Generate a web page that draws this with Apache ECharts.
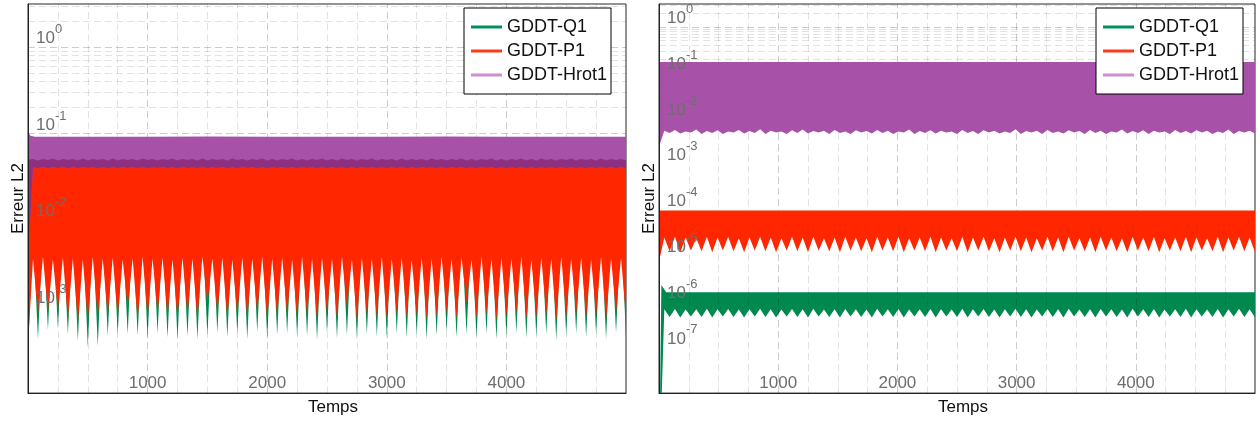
<!DOCTYPE html>
<html><head><meta charset="utf-8">
<script src="https://cdn.jsdelivr.net/npm/echarts@6/dist/echarts.min.js"></script>
<style>html,body{margin:0;padding:0;background:#fff}#c{width:1260px;height:421px}</style>
</head><body><div id="c"></div>
<script>
// ---------- DATA ----------
const seriesNames = ['GDDT-Q1', 'GDDT-P1', 'GDDT-Hrot1'];
const xTickLabels = [1000, 2000, 3000, 4000];
const leftExps = [0, -1, -2, -3];
const rightExps = [0, -1, -2, -3, -4, -5, -6, -7];
const tMax = 5000;

// sampling grids (time)
const leftFineT = Array.from({length: 121}, (_, i) => i * tMax / 120);
const rightFineT = Array.from({length: 113}, (_, i) => i * tMax / 112);
const coarseT = [0, 20, 60, 500, 1000, 1500, 2000, 2500, 3000, 3500, 4000, 4500, 5000];

// ----- left panel -----
const leftQ1High = [0.042, 0.042, 0.042, 0.042, 0.042, 0.042, 0.042, 0.042, 0.042, 0.042, 0.042, 0.042, 0.042];
const leftP1High = [0.043, 0.043, 0.043, 0.043, 0.043, 0.043, 0.043, 0.043, 0.043, 0.043, 0.043, 0.043, 0.043];
const leftHrotHigh = [0.105, 0.095, 0.092, 0.092, 0.092, 0.093, 0.092, 0.092, 0.092, 0.093, 0.092, 0.092, 0.092];

const leftP1Low = [3.5e-4,
 3.6e-3, 8.2e-4, 3.8e-3, 8.8e-4, 3.5e-3, 9.2e-4, 3.7e-3, 7.4e-4, 3.6e-3, 6.6e-4,
 3.5e-3, 6.9e-4, 3.8e-3, 7.6e-4, 3.6e-3, 8.0e-4, 3.7e-3, 7.7e-4, 3.5e-3, 1.0e-3,
 3.6e-3, 7.0e-4, 3.8e-3, 7.6e-4, 3.6e-3, 8.3e-4, 3.7e-3, 7.7e-4, 3.5e-3, 7.4e-4,
 3.7e-3, 8.0e-4, 3.6e-3, 7.2e-4, 3.8e-3, 1.1e-3, 3.6e-3, 8.4e-4, 3.7e-3, 7.3e-4,
 3.5e-3, 8.1e-4, 3.7e-3, 7.5e-4, 3.6e-3, 8.6e-4, 3.8e-3, 7.2e-4, 3.6e-3, 7.9e-4,
 3.7e-3, 8.3e-4, 3.5e-3, 7.6e-4, 3.8e-3, 8.0e-4, 3.6e-3, 7.1e-4, 3.7e-3, 8.5e-4,
 3.6e-3, 7.4e-4, 3.8e-3, 1.0e-3, 3.5e-3, 7.0e-4, 3.7e-3, 8.2e-4, 3.6e-3, 7.7e-4,
 3.8e-3, 7.3e-4, 3.6e-3, 8.4e-4, 3.7e-3, 7.6e-4, 3.5e-3, 8.1e-4, 3.7e-3, 7.2e-4,
 3.6e-3, 7.8e-4, 3.8e-3, 8.6e-4, 3.6e-3, 7.4e-4, 3.7e-3, 1.1e-3, 3.5e-3, 7.5e-4,
 3.8e-3, 8.3e-4, 3.6e-3, 7.1e-4, 3.7e-3, 7.9e-4, 3.6e-3, 8.5e-4, 3.8e-3, 7.3e-4,
 3.5e-3, 7.7e-4, 3.7e-3, 8.2e-4, 3.6e-3, 7.0e-4, 3.8e-3, 7.8e-4, 3.6e-3, 8.4e-4,
 3.7e-3, 7.5e-4, 3.5e-3, 8.0e-4, 3.8e-3, 7.2e-4, 3.6e-3, 8.6e-4, 3.7e-3, 7.6e-4];

const leftQ1Low = [3.0e-4,
 8.0e-3, 4.2e-4, 8.2e-3, 5.4e-4, 7.8e-3, 5.6e-4, 8.0e-3, 4.8e-4, 8.2e-3, 4.0e-4,
 7.8e-3, 3.4e-4, 8.0e-3, 3.5e-4, 8.2e-3, 4.6e-4, 8.0e-3, 4.7e-4, 7.8e-3, 4.8e-4,
 8.2e-3, 4.6e-4, 8.0e-3, 4.3e-4, 7.8e-3, 4.9e-4, 8.2e-3, 4.4e-4, 8.0e-3, 4.1e-4,
 7.8e-3, 4.5e-4, 8.2e-3, 4.2e-4, 8.0e-3, 4.6e-4, 7.8e-3, 5.0e-4, 8.2e-3, 4.4e-4,
 8.0e-3, 4.8e-4, 7.8e-3, 4.2e-4, 8.2e-3, 5.1e-4, 8.0e-3, 4.3e-4, 7.8e-3, 4.7e-4,
 8.2e-3, 4.9e-4, 8.0e-3, 4.5e-4, 7.8e-3, 4.6e-4, 8.2e-3, 4.1e-4, 8.0e-3, 5.0e-4,
 7.8e-3, 4.3e-4, 8.2e-3, 4.7e-4, 8.0e-3, 4.2e-4, 7.8e-3, 4.8e-4, 8.2e-3, 4.5e-4,
 8.0e-3, 4.3e-4, 7.8e-3, 4.9e-4, 8.2e-3, 4.4e-4, 8.0e-3, 4.7e-4, 7.8e-3, 4.2e-4,
 8.2e-3, 4.6e-4, 8.0e-3, 5.1e-4, 7.8e-3, 4.4e-4, 8.2e-3, 4.8e-4, 8.0e-3, 4.3e-4,
 7.8e-3, 4.9e-4, 8.2e-3, 4.2e-4, 8.0e-3, 4.6e-4, 7.8e-3, 5.0e-4, 8.2e-3, 4.3e-4,
 8.0e-3, 4.5e-4, 7.8e-3, 4.8e-4, 8.2e-3, 4.1e-4, 8.0e-3, 4.6e-4, 7.8e-3, 4.9e-4,
 8.2e-3, 4.4e-4, 8.0e-3, 4.7e-4, 7.8e-3, 4.2e-4, 8.2e-3, 5.0e-4, 8.0e-3, 4.5e-4];

const leftHrotDark = [0.050,
 0.051, 0.049, 0.051, 0.0495, 0.0515, 0.049, 0.051, 0.0495, 0.051, 0.049,
 0.0515, 0.049, 0.051, 0.0495, 0.051, 0.049, 0.0515, 0.049, 0.051, 0.0495,
 0.051, 0.049, 0.0515, 0.0495, 0.051, 0.049, 0.051, 0.0495, 0.0515, 0.049,
 0.051, 0.0495, 0.051, 0.049, 0.0515, 0.049, 0.051, 0.0495, 0.051, 0.049,
 0.0515, 0.0495, 0.051, 0.049, 0.051, 0.0495, 0.0515, 0.049, 0.051, 0.049,
 0.051, 0.0495, 0.0515, 0.049, 0.051, 0.049, 0.051, 0.0495, 0.0515, 0.049,
 0.051, 0.049, 0.0515, 0.0495, 0.051, 0.049, 0.051, 0.0495, 0.0515, 0.049,
 0.051, 0.0495, 0.051, 0.049, 0.0515, 0.049, 0.051, 0.0495, 0.051, 0.049,
 0.0515, 0.0495, 0.051, 0.049, 0.051, 0.0495, 0.0515, 0.049, 0.051, 0.049,
 0.051, 0.0495, 0.0515, 0.049, 0.051, 0.049, 0.051, 0.0495, 0.0515, 0.049,
 0.051, 0.049, 0.0515, 0.0495, 0.051, 0.049, 0.051, 0.0495, 0.0515, 0.049,
 0.051, 0.0495, 0.051, 0.049, 0.0515, 0.049, 0.051, 0.0495, 0.051, 0.049];

const leftHrotLow = [3.5e-3,
 0.0412, 0.0397, 0.0414, 0.0396, 0.0411, 0.0398, 0.0413, 0.0396, 0.0412, 0.0397,
 0.0414, 0.0398, 0.0411, 0.0396, 0.0413, 0.0397, 0.0412, 0.0396, 0.0414, 0.0398,
 0.0411, 0.0397, 0.0413, 0.0396, 0.0412, 0.0398, 0.0414, 0.0397, 0.0411, 0.0396,
 0.0413, 0.0398, 0.0412, 0.0397, 0.0414, 0.0396, 0.0411, 0.0398, 0.0413, 0.0397,
 0.0412, 0.0396, 0.0414, 0.0398, 0.0411, 0.0397, 0.0413, 0.0396, 0.0412, 0.0398,
 0.0414, 0.0397, 0.0411, 0.0396, 0.0413, 0.0398, 0.0412, 0.0397, 0.0414, 0.0396,
 0.0411, 0.0398, 0.0413, 0.0397, 0.0412, 0.0396, 0.0414, 0.0398, 0.0411, 0.0397,
 0.0413, 0.0396, 0.0412, 0.0398, 0.0414, 0.0397, 0.0411, 0.0396, 0.0413, 0.0398,
 0.0412, 0.0397, 0.0414, 0.0396, 0.0411, 0.0398, 0.0413, 0.0397, 0.0412, 0.0396,
 0.0414, 0.0398, 0.0411, 0.0397, 0.0413, 0.0396, 0.0412, 0.0398, 0.0414, 0.0397,
 0.0411, 0.0396, 0.0413, 0.0398, 0.0412, 0.0397, 0.0414, 0.0396, 0.0411, 0.0398,
 0.0413, 0.0397, 0.0412, 0.0396, 0.0414, 0.0398, 0.0411, 0.0397, 0.0413, 0.0396];

// ----- right panel -----
const rightQ1High = [1e-10, 2.3e-6, 1.6e-6, 1.6e-6, 1.6e-6, 1.6e-6, 1.6e-6, 1.6e-6, 1.6e-6, 1.6e-6, 1.6e-6, 1.6e-6, 1.6e-6];
const rightP1High = [9.7e-5, 9.7e-5, 9.7e-5, 9.7e-5, 9.7e-5, 9.7e-5, 9.7e-5, 9.7e-5, 9.7e-5, 9.7e-5, 9.7e-5, 9.7e-5, 9.7e-5];
const rightHrotHigh = [0.17, 0.17, 0.17, 0.17, 0.17, 0.17, 0.17, 0.17, 0.17, 0.17, 0.17, 0.17, 0.17];

const rightP1Low = [7.5e-6,
 2.5e-5, 1.25e-5, 2.6e-5, 1.2e-5, 2.5e-5, 1.3e-5, 2.4e-5, 1.25e-5, 2.6e-5, 1.2e-5,
 2.5e-5, 1.3e-5, 2.6e-5, 1.25e-5, 2.4e-5, 1.2e-5, 2.5e-5, 1.3e-5, 2.6e-5, 1.25e-5,
 2.5e-5, 1.2e-5, 2.4e-5, 1.3e-5, 2.6e-5, 1.25e-5, 2.5e-5, 1.2e-5, 2.6e-5, 1.3e-5,
 2.4e-5, 1.25e-5, 2.5e-5, 1.2e-5, 2.6e-5, 1.3e-5, 2.5e-5, 1.25e-5, 2.4e-5, 1.2e-5,
 2.6e-5, 1.3e-5, 2.5e-5, 1.25e-5, 2.6e-5, 1.2e-5, 2.4e-5, 1.3e-5, 2.5e-5, 1.25e-5,
 2.6e-5, 1.2e-5, 2.5e-5, 1.3e-5, 2.4e-5, 1.25e-5, 2.6e-5, 1.2e-5, 2.5e-5, 1.3e-5,
 2.6e-5, 1.25e-5, 2.4e-5, 1.2e-5, 2.5e-5, 1.3e-5, 2.6e-5, 1.25e-5, 2.5e-5, 1.2e-5,
 2.4e-5, 1.3e-5, 2.6e-5, 1.25e-5, 2.5e-5, 1.2e-5, 2.6e-5, 1.3e-5, 2.4e-5, 1.25e-5,
 2.5e-5, 1.2e-5, 2.6e-5, 1.3e-5, 2.5e-5, 1.25e-5, 2.4e-5, 1.2e-5, 2.6e-5, 1.3e-5,
 2.5e-5, 1.25e-5, 2.6e-5, 1.2e-5, 2.4e-5, 1.3e-5, 2.5e-5, 1.25e-5, 2.6e-5, 1.2e-5,
 2.5e-5, 1.3e-5, 2.4e-5, 1.25e-5, 2.6e-5, 1.2e-5, 2.5e-5, 1.3e-5, 2.6e-5, 1.25e-5,
 2.5e-5, 1.2e-5];

const rightQ1Low = [1e-10,
 6.8e-7, 4.6e-7, 6.9e-7, 4.5e-7, 6.7e-7, 4.7e-7, 6.8e-7, 4.6e-7, 7.0e-7, 4.5e-7,
 6.8e-7, 4.7e-7, 6.9e-7, 4.6e-7, 6.7e-7, 4.5e-7, 6.8e-7, 4.7e-7, 7.0e-7, 4.6e-7,
 6.8e-7, 4.5e-7, 6.7e-7, 4.7e-7, 6.9e-7, 4.6e-7, 6.8e-7, 4.5e-7, 7.0e-7, 4.7e-7,
 6.7e-7, 4.6e-7, 6.8e-7, 4.5e-7, 6.9e-7, 4.7e-7, 6.8e-7, 4.6e-7, 6.7e-7, 4.5e-7,
 7.0e-7, 4.7e-7, 6.8e-7, 4.6e-7, 6.9e-7, 4.5e-7, 6.7e-7, 4.7e-7, 6.8e-7, 4.6e-7,
 6.9e-7, 4.5e-7, 6.8e-7, 4.7e-7, 6.7e-7, 4.6e-7, 7.0e-7, 4.5e-7, 6.8e-7, 4.7e-7,
 6.9e-7, 4.6e-7, 6.7e-7, 4.5e-7, 6.8e-7, 4.7e-7, 7.0e-7, 4.6e-7, 6.8e-7, 4.5e-7,
 6.7e-7, 4.7e-7, 6.9e-7, 4.6e-7, 6.8e-7, 4.5e-7, 7.0e-7, 4.7e-7, 6.7e-7, 4.6e-7,
 6.8e-7, 4.5e-7, 6.9e-7, 4.7e-7, 6.8e-7, 4.6e-7, 6.7e-7, 4.5e-7, 7.0e-7, 4.7e-7,
 6.8e-7, 4.6e-7, 6.9e-7, 4.5e-7, 6.7e-7, 4.7e-7, 6.8e-7, 4.6e-7, 7.0e-7, 4.5e-7,
 6.8e-7, 4.7e-7, 6.7e-7, 4.6e-7, 6.9e-7, 4.5e-7, 6.8e-7, 4.7e-7, 7.0e-7, 4.6e-7,
 6.8e-7, 4.5e-7];

const rightHrotLow = [2.4e-3,
 5.4e-3, 4.8e-3, 5.6e-3, 4.7e-3, 5.2e-3, 4.9e-3, 5.7e-3, 4.6e-3, 5.3e-3, 4.8e-3,
 5.5e-3, 4.6e-3, 5.2e-3, 4.9e-3, 5.6e-3, 4.7e-3, 5.3e-3, 4.8e-3, 5.8e-3, 4.6e-3,
 5.4e-3, 4.9e-3, 5.2e-3, 4.6e-3, 5.5e-3, 4.8e-3, 5.7e-3, 4.7e-3, 5.3e-3, 4.9e-3,
 5.4e-3, 4.6e-3, 5.6e-3, 4.8e-3, 5.2e-3, 4.6e-3, 5.5e-3, 4.9e-3, 5.3e-3, 4.7e-3,
 5.6e-3, 4.8e-3, 5.4e-3, 4.6e-3, 5.2e-3, 4.9e-3, 5.7e-3, 4.6e-3, 5.3e-3, 4.8e-3,
 5.5e-3, 4.7e-3, 5.4e-3, 4.9e-3, 5.2e-3, 4.6e-3, 5.6e-3, 4.8e-3, 5.3e-3, 4.6e-3,
 5.5e-3, 4.9e-3, 5.4e-3, 4.7e-3, 5.2e-3, 4.8e-3, 5.8e-3, 4.6e-3, 5.3e-3, 4.9e-3,
 5.4e-3, 4.6e-3, 5.6e-3, 4.8e-3, 5.2e-3, 4.7e-3, 5.5e-3, 4.9e-3, 5.3e-3, 4.6e-3,
 5.6e-3, 4.8e-3, 5.4e-3, 4.6e-3, 5.2e-3, 4.9e-3, 5.7e-3, 4.7e-3, 5.3e-3, 4.8e-3,
 5.5e-3, 4.6e-3, 5.4e-3, 4.9e-3, 5.2e-3, 4.6e-3, 5.6e-3, 4.8e-3, 5.3e-3, 4.7e-3,
 5.5e-3, 4.9e-3, 5.4e-3, 4.6e-3, 5.2e-3, 4.8e-3, 5.7e-3, 4.6e-3, 5.3e-3, 4.9e-3,
 5.4e-3, 4.7e-3];

// ---------- STYLE ----------
const FONT = 'Liberation Sans, Arial, Helvetica, sans-serif';
const colQ1 = '#00894f', colP1 = '#ff2600', colHrot = '#a851a8', colHrotDark = '#8d307f';
const legQ1 = '#00915a', legP1 = '#ff3a1a', legHrot = '#cc8fd0';
const labelGray = '#6e6e6e';
const gridMinor = 'rgba(0,0,0,0.11)', gridMajor = 'rgba(0,0,0,0.2)';
const yMax = Math.sqrt(10);

function bandSeries(name, gi, color, hiT, hi, loT, lo, z, dark) {
  return {
    name, type: 'custom', coordinateSystem: 'cartesian2d',
    xAxisIndex: gi, yAxisIndex: gi, z, clip: true, silent: true,
    itemStyle: {color},
    data: [[hiT[0], hi[0]]],
    renderItem(params, api) {
      if (params.dataIndex !== 0) return null;
      const top = hiT.map((t, i) => api.coord([t, hi[i]]));
      const bot = loT.map((t, i) => api.coord([t, lo[i]])).reverse();
      const cs = params.coordSys;
      const children = [{type: 'polygon', shape: {points: top.concat(bot)}, style: {fill: color}}];
      if (dark) {
        const dtop = loT.map((t, i) => api.coord([t, dark.v[i]]));
        children.push({type: 'polygon', shape: {points: dtop.concat(bot)}, style: {fill: dark.color}});
      }
      return {type: 'group', children,
        clipPath: {type: 'rect', shape: {x: cs.x, y: cs.y, width: cs.width, height: cs.height}}};
    }
  };
}

function gridLineSeries(gi, minExp) {
  const items = [];
  for (let t = 250; t < tMax; t += 250) {
    items.push({xAxis: t, lineStyle: {color: t % 1000 === 0 ? gridMajor : gridMinor, type: [7, 4], width: 1}});
  }
  for (let e = minExp; e <= 0; e++) {
    const d = Math.pow(10, e);
    if (e > minExp) items.push({yAxis: d, lineStyle: {color: gridMajor, type: [7, 4], width: 1}});
    for (let m = 2; m <= 9; m++) {
      const v = m * d;
      if (v < yMax) items.push({yAxis: v, lineStyle: {color: gridMinor, type: [7, 4], width: 1}});
    }
  }
  return {
    name: '_grid' + gi, type: 'line', xAxisIndex: gi, yAxisIndex: gi, data: [], z: 8, silent: true,
    markLine: {silent: true, animation: false, symbol: ['none', 'none'], label: {show: false}, data: items}
  };
}

function xAxisCfg(gi) {
  return {
    gridIndex: gi, type: 'value', min: 0, max: tMax, interval: 250, z: 10,
    axisLine: {show: true, lineStyle: {color: '#222', width: 1}},
    axisTick: {show: false},
    splitLine: {show: false},
    axisLabel: {inside: true, interval: 0, margin: 1, color: labelGray, fontSize: 17, fontFamily: FONT,
      formatter: v => xTickLabels.includes(v) ? String(v) : ''},
    name: 'Temps', nameLocation: 'middle', nameGap: 0,
    nameTextStyle: {color: '#111', fontSize: 17, fontFamily: FONT, verticalAlign: 'top', padding: [0, 0, 0, 12]}
  };
}

function yAxisCfg(gi, minExp, exps) {
  return {
    gridIndex: gi, type: 'log', logBase: 10, min: Math.pow(10, minExp), max: yMax, interval: 1, z: 10,
    axisLine: {show: true, lineStyle: {color: '#222', width: 1}},
    axisTick: {show: false},
    splitLine: {show: false},
    axisLabel: {
      inside: true, margin: 8, verticalAlign: 'bottom', align: 'left', showMinLabel: false,
      formatter: v => {
        const e = Math.log10(v), r = Math.round(e);
        if (Math.abs(e - r) > 1e-6 || !exps.includes(r)) return '';
        return '{b|10}{s|' + r + '}';
      },
      rich: {
        b: {fontSize: 17, color: labelGray, fontFamily: FONT, verticalAlign: 'bottom'},
        s: {fontSize: 13, color: labelGray, fontFamily: FONT, verticalAlign: 'bottom', padding: [0, 0, 11, 0]}
      }
    },
    name: 'Erreur L2', nameLocation: 'middle', nameGap: 1,
    nameTextStyle: {color: '#111', fontSize: 17, fontFamily: FONT}
  };
}

function legendCfg(left) {
  return {
    left, top: 8, orient: 'vertical', backgroundColor: '#fff', borderColor: '#000', borderWidth: 1,
    padding: [10, 4, 10, 7], itemWidth: 31, itemHeight: 3, itemGap: 6, itemTextGap: 7, z: 20,
    selectedMode: false,
    textStyle: {fontSize: 18, color: '#111', fontFamily: FONT},
    data: [
      {name: seriesNames[0], icon: 'rect', itemStyle: {color: legQ1}},
      {name: seriesNames[1], icon: 'rect', itemStyle: {color: legP1}},
      {name: seriesNames[2], icon: 'rect', itemStyle: {color: legHrot}}
    ]
  };
}

const option = {
  animation: false,
  backgroundColor: '#fff',
  textStyle: {fontFamily: FONT},
  grid: [
    {left: 28, top: 4, width: 598, height: 390, show: true, borderColor: '#262626', borderWidth: 1, backgroundColor: '#fff'},
    {left: 659, top: 4, width: 596, height: 390, show: true, borderColor: '#262626', borderWidth: 1, backgroundColor: '#fff'}
  ],
  xAxis: [xAxisCfg(0), xAxisCfg(1)],
  yAxis: [yAxisCfg(0, -4, leftExps), yAxisCfg(1, -8, rightExps)],
  legend: [legendCfg(464), legendCfg(1096)],
  series: [
    bandSeries(seriesNames[0], 0, colQ1, coarseT, leftQ1High, leftFineT, leftQ1Low, 4),
    bandSeries(seriesNames[1], 0, colP1, coarseT, leftP1High, leftFineT, leftP1Low, 5),
    bandSeries(seriesNames[2], 0, colHrot, coarseT, leftHrotHigh, leftFineT, leftHrotLow, 6,
      {v: leftHrotDark, color: colHrotDark}),
    bandSeries(seriesNames[0], 1, colQ1, coarseT, rightQ1High, rightFineT, rightQ1Low, 4),
    bandSeries(seriesNames[1], 1, colP1, coarseT, rightP1High, rightFineT, rightP1Low, 5),
    bandSeries(seriesNames[2], 1, colHrot, coarseT, rightHrotHigh, rightFineT, rightHrotLow, 6),
    gridLineSeries(0, -4),
    gridLineSeries(1, -8)
  ]
};

const chart = echarts.init(document.getElementById('c'), null, {renderer: 'canvas'});
chart.setOption(option);
</script>
</body></html>
